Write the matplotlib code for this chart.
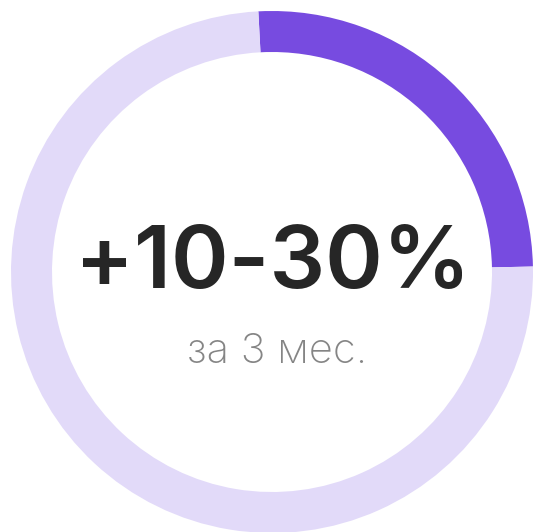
import matplotlib.pyplot as plt

# progress ring: done part vs rest (percent)
shares = [25.5, 74.5]
ring_colors = ["#774BE0", "#E2DAF9"]
headline = "+10-30%"
caption = "за 3 мес."

W, H = 533, 532
fig = plt.figure(figsize=(W / 100, H / 100), dpi=100)
ax = fig.add_axes([0, 0, 1, 1])

ax.pie(shares, colors=ring_colors, startangle=93, counterclock=False,
       center=(272, 260), radius=261, frame=True,
       wedgeprops=dict(width=41, linewidth=0))
ax.set_xlim(0, W)
ax.set_ylim(0, H)
ax.set_aspect("equal")
ax.axis("off")

ax.text(273, 244, headline, ha="center", va="baseline", fontsize=63,
        fontfamily="Inter", fontweight="semibold", color="#262626")
ax.text(277, 169, caption, ha="center", va="baseline", fontsize=30,
        fontfamily="Inter", fontweight="light", color="#858585")

fig.savefig("out.png", dpi=100)
